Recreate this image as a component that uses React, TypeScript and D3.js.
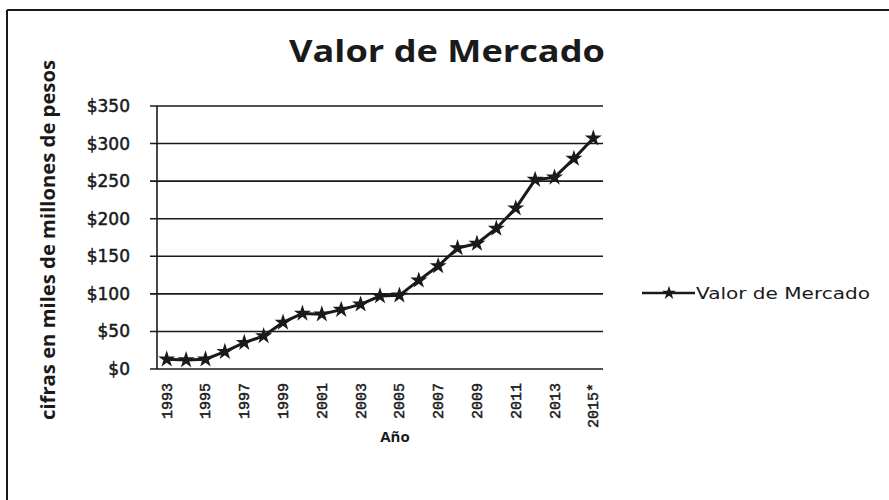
import { useEffect, useRef } from "react";
import * as d3 from "d3";

const years = [
  "1993", "1994", "1995", "1996", "1997", "1998", "1999", "2000", "2001", "2002", "2003", "2004",
  "2005", "2006", "2007", "2008", "2009", "2010", "2011", "2012", "2013", "2014", "2015*",
];
const valorMercado = [
  13, 12, 13, 23, 35, 44, 62, 74, 73, 79, 86, 97, 98, 118, 137, 161, 167, 187, 214, 252, 255, 280, 307,
];
const yTicks = [0, 50, 100, 150, 200, 250, 300, 350];
const labeledYears = years.filter((_, i) => i % 2 === 0);

const title = "Valor de Mercado";
const yTitle = "cifras en miles de millones de pesos";
const xTitle = "Año";
const seriesName = "Valor de Mercado";

type Point = { year: string; value: number };

export default function App() {
  const svgRef = useRef<SVGSVGElement | null>(null);
  const width = 889;
  const height = 500;

  useEffect(() => {
    const svg = d3.select(svgRef.current);
    svg.selectAll("*").remove();

    const ink = "#1a1a1a";
    const plot = { left: 157, right: 603, top: 106, bottom: 369 };
    const data: Point[] = years.map((y, i) => ({ year: y, value: valorMercado[i] }));

    const x = d3.scaleBand<string>().domain(years).range([plot.left, plot.right]).padding(0);
    const y = d3.scaleLinear().domain([0, 350]).range([plot.bottom, plot.top]);
    const cx = (d: string) => (x(d) as number) + x.bandwidth() / 2;

    // frame (only top and left edges survive in the scan)
    svg.append("line").attr("x1", 7).attr("y1", 10).attr("x2", width).attr("y2", 10)
      .attr("stroke", ink).attr("stroke-width", 2);
    svg.append("line").attr("x1", 7).attr("y1", 10).attr("x2", 7).attr("y2", height)
      .attr("stroke", ink).attr("stroke-width", 2);

    // title
    svg.append("text")
      .attr("x", 447).attr("y", 62)
      .attr("text-anchor", "middle")
      .attr("font-family", "'Open Sans', sans-serif")
      .attr("font-weight", "bold")
      .attr("font-size", 31)
      .attr("textLength", 316)
      .attr("lengthAdjust", "spacingAndGlyphs")
      .attr("fill", ink)
      .text(title);

    // gridlines + y ticks
    const grid = svg.append("g");
    yTicks.forEach((t) => {
      grid.append("line")
        .attr("x1", plot.left - 7).attr("x2", plot.right)
        .attr("y1", y(t)).attr("y2", y(t))
        .attr("stroke", ink).attr("stroke-width", 1.6);
      grid.append("text")
        .attr("x", 130).attr("y", y(t))
        .attr("dy", "0.35em")
        .attr("text-anchor", "end")
        .attr("font-family", "'DejaVu Sans', sans-serif")
        .attr("font-size", 17)
        .attr("fill", ink)
        .attr("stroke", ink)
        .attr("stroke-width", 0.5)
        .text(`$${t}`);
    });

    // y axis line
    svg.append("line")
      .attr("x1", plot.left).attr("x2", plot.left)
      .attr("y1", plot.top).attr("y2", plot.bottom)
      .attr("stroke", ink).attr("stroke-width", 1.6);

    // x tick labels, rotated
    labeledYears.forEach((yr) => {
      svg.append("text")
        .attr("transform", `translate(${cx(yr) + 5},${plot.bottom + 14}) rotate(-90)`)
        .attr("text-anchor", "end")
        .attr("font-family", "'Liberation Mono', monospace")
        .attr("font-size", 15)
        .attr("fill", ink)
        .attr("stroke", ink)
        .attr("stroke-width", 0.5)
        .text(yr);
    });

    // axis titles
    svg.append("text")
      .attr("transform", "translate(55,240) rotate(-90)")
      .attr("text-anchor", "middle")
      .attr("font-family", "'Open Sans', sans-serif")
      .attr("font-weight", "bold")
      .attr("font-size", 20)
      .attr("textLength", 360)
      .attr("lengthAdjust", "spacingAndGlyphs")
      .attr("fill", ink)
      .text(yTitle);

    svg.append("text")
      .attr("x", 395).attr("y", 442)
      .attr("text-anchor", "middle")
      .attr("font-family", "'Open Sans', sans-serif")
      .attr("font-weight", "bold")
      .attr("font-size", 15)
      .attr("fill", ink)
      .text(xTitle);

    // series line
    const line = d3.line<Point>().x((d) => cx(d.year)).y((d) => y(d.value));
    svg.append("path")
      .datum(data)
      .attr("fill", "none")
      .attr("stroke", ink)
      .attr("stroke-width", 3)
      .attr("d", line);

    const star = d3.symbol().type(d3.symbolStar).size(90);
    svg.append("g")
      .selectAll("path")
      .data(data)
      .join("path")
      .attr("transform", (d) => `translate(${cx(d.year)},${y(d.value)})`)
      .attr("d", star)
      .attr("fill", ink);

    // legend
    const lg = svg.append("g").attr("transform", "translate(642,293)");
    lg.append("line").attr("x1", 0).attr("x2", 53).attr("y1", 0).attr("y2", 0)
      .attr("stroke", ink).attr("stroke-width", 2.5);
    lg.append("path").attr("transform", "translate(27,0)").attr("d", d3.symbol().type(d3.symbolStar).size(60)).attr("fill", ink);
    lg.append("text")
      .attr("x", 54).attr("y", 0)
      .attr("dy", "0.35em")
      .attr("font-family", "'DejaVu Sans', sans-serif")
      .attr("font-size", 16)
      .attr("textLength", 174)
      .attr("lengthAdjust", "spacingAndGlyphs")
      .attr("fill", ink)
      .text(seriesName);
  }, []);

  return (
    <svg
      ref={svgRef}
      width={width}
      height={height}
      style={{ position: "absolute", left: 0, top: 0, background: "#fff" }}
    ></svg>
  );
}
